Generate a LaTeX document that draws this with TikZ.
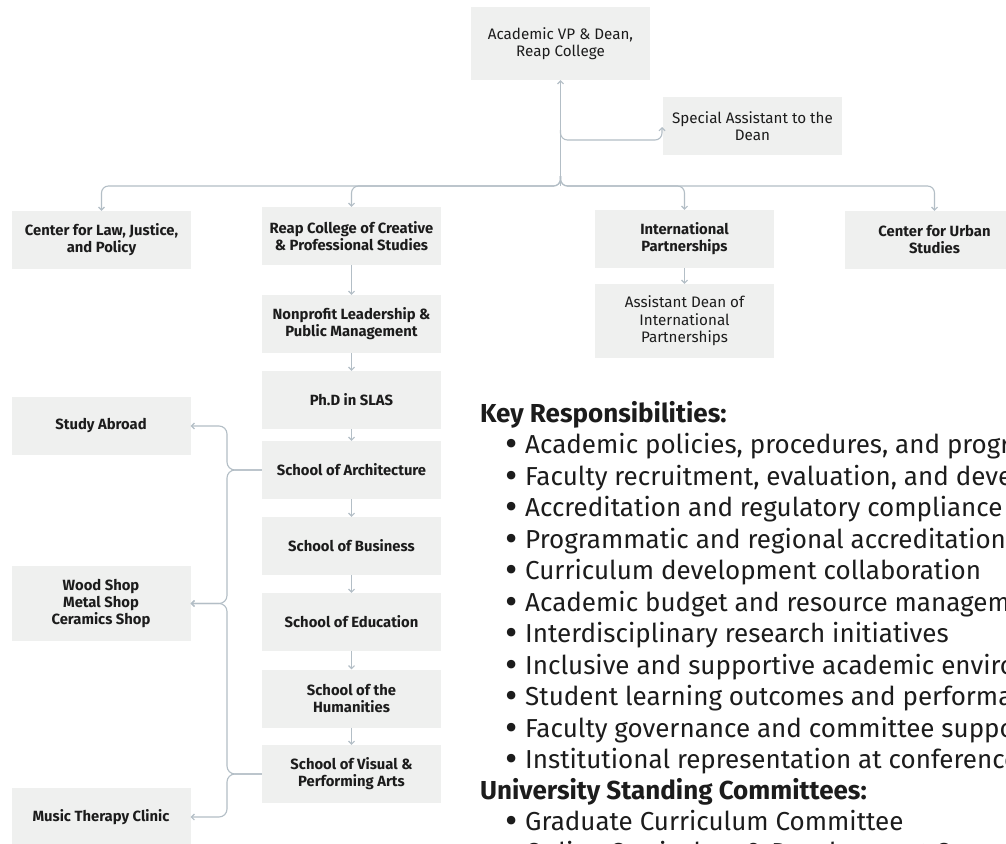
\documentclass[tikz,border=0pt]{standalone}
\usepackage{fontspec}
\setmainfont{Fira Sans}
\usetikzlibrary{arrows.meta}
\definecolor{boxfill}{HTML}{EFF0EF}
\definecolor{linec}{HTML}{B3BEC6}
\definecolor{txt}{HTML}{1C1C1C}
\newcommand{\mybul}{\makebox[20pt][l]{\raisebox{-0.12em}{\scalebox{1.45}{•}}}}
\begin{document}
\begin{tikzpicture}[x=1pt,y=-1pt,
  box/.style={fill=boxfill, minimum width=179pt, minimum height=58pt, align=center, text=txt, font=\fontsize{15.2}{17.5}\selectfont, inner sep=0pt},
  bbox/.style={box, font=\fontsize{14.8}{17}\selectfont\bfseries},
  conn/.style={draw=linec, line width=1.1pt, -{Straight Barb[length=3pt,width=6pt]}},
  head/.style={anchor=base west, inner sep=0pt, text=txt, font=\fontsize{26}{30}\selectfont\bfseries},
  item/.style={anchor=base west, inner sep=0pt, text=txt, font=\fontsize{26}{30}\selectfont},
]
\clip (0,0) rectangle (1006,843);
\fill[white] (0,0) rectangle (1006,843);
% nodes
\node[box, minimum height=73pt] (top) at (560.5,43.5) {Academic VP \& Dean,\\Reap College};
\node[box] (sa) at (752.5,126) {Special Assistant to the\\Dean};
\node[bbox] (law) at (101.5,240) {Center for Law, Justice,\\and Policy};
\node[bbox] (reap) at (351.5,236) {Reap College of Creative\\\& Professional Studies};
\node[bbox] (intl) at (684.5,239) {International\\Partnerships};
\node[bbox] (urban) at (934.5,240) {Center for Urban\\Studies};
\node[box, minimum height=74pt] (asst) at (684.5,321) {Assistant Dean of\\International\\Partnerships};
\node[bbox] (npl) at (351.5,324) {Nonprofit Leadership \&\\Public Management};
\node[bbox] (phd) at (351.5,400) {Ph.D in SLAS};
\node[bbox] (arch) at (351.5,470) {School of Architecture};
\node[bbox] (busi) at (351.5,546) {School of Business};
\node[bbox] (edu) at (351.5,622) {School of Education};
\node[bbox] (hum) at (351.5,698.5) {School of the\\Humanities};
\node[bbox] (vis) at (351.5,774) {School of Visual \&\\Performing Arts};
\node[bbox] (abroad) at (101,426) {Study Abroad};
\node[bbox, minimum height=75pt] (shops) at (101,603.5) {Wood Shop\\Metal Shop\\Ceramics Shop};
\node[bbox] (music) at (101,817) {Music Therapy Clinic};
% connectors
\coordinate (J) at (560.5,186);
\draw[conn] (J) -- (top.south);
\draw[conn, rounded corners=7pt] (560.5,130) -- (560.5,140) -- (662,140) -- (662,127);
\draw[conn, rounded corners=7pt] (560.5,176) -- (J) -| (law.north);
\draw[conn, rounded corners=7pt] (560.5,176) -- (J) -| (reap.north);
\draw[conn, rounded corners=7pt] (560.5,176) -- (J) -| (intl.north);
\draw[conn, rounded corners=7pt] (560.5,176) -- (J) -| (urban.north);
\draw[conn] (intl.south) -- (asst.north);
\draw[conn] (reap.south) -- (npl.north);
\draw[conn] (npl.south) -- (phd.north);
\draw[conn] (phd.south) -- (arch.north);
\draw[conn] (arch.south) -- (busi.north);
\draw[conn] (busi.south) -- (edu.north);
\draw[conn] (edu.south) -- (hum.north);
\draw[conn] (hum.south) -- (vis.north);
\draw[conn, rounded corners=8pt] (arch.west) -- (227,470) |- (abroad.east);
\draw[conn, rounded corners=8pt] (arch.west) -- (227,470) |- (shops.east);
\draw[conn, rounded corners=8pt] (vis.west) -- (227,774) |- (shops.east);
\draw[conn, rounded corners=8pt] (vis.west) -- (227,774) |- (music.east);
% text block
\node[head] (h1) at (480,422) {Key Responsibilities:};
\foreach \t [count=\i] in {{Academic policies, procedures, and program standards},
  {Faculty recruitment, evaluation, and development},
  {Accreditation and regulatory compliance},
  {Programmatic and regional accreditation},
  {Curriculum development collaboration},
  {Academic budget and resource management},
  {Interdisciplinary research initiatives},
  {Inclusive and supportive academic environment},
  {Student learning outcomes and performance},
  {Faculty governance and committee support},
  {Institutional representation at conferences}}{
  \node[item] (k\i) at (505,422+31.5*\i) {\mybul\t};
}
\node[head] (h2) at (480,799) {University Standing Committees:};
\node[item] (u1) at (505,830) {\mybul Graduate Curriculum Committee};
\node[item] (u2) at (505,861) {\mybul Online Curriculum \& Development Committee};
\end{tikzpicture}
\end{document}
